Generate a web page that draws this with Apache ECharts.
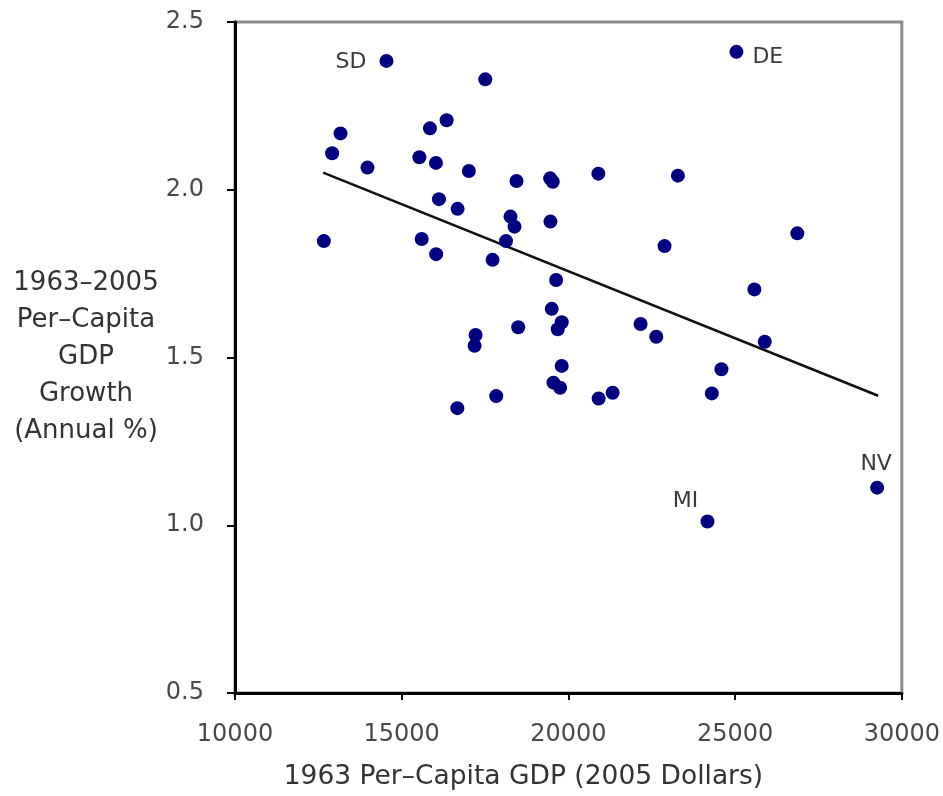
<!DOCTYPE html>
<html>
<head>
<meta charset="utf-8">
<script src="https://cdn.jsdelivr.net/npm/echarts@6/dist/echarts.min.js"></script>
<style>
  html, body { margin: 0; padding: 0; background: #fff; }
  #chart { width: 943px; height: 796px; }
</style>
</head>
<body>
<div id="chart"></div>
<script>
// 1963 per-capita GDP (2005 dollars) for each state
const gdp1963 = [
  14542, 25039, 17506, 13165, 12913, 13973, 15847, 16347, 15530, 16027,
  17015, 18443, 19452, 19530, 20898, 23284, 16117, 16677, 18263, 18383,
  19461, 12665, 15599, 16033, 18129, 17725, 19632, 22883, 26865, 25578,
  19500, 19799, 19680, 18494, 17216, 17186, 22165, 22635, 25889, 19799,
  24590, 19551, 19751, 17835, 16668, 20907, 21326, 24302, 24171, 29260
];
// 1963-2005 per-capita GDP growth (annual %)
const growthRate = [
  2.384, 2.411, 2.329, 2.168, 2.109, 2.066, 2.183, 2.207, 2.097, 2.080,
  2.056, 2.026, 2.034, 2.024, 2.048, 2.042, 1.972, 1.943, 1.920, 1.890,
  1.905, 1.847, 1.853, 1.808, 1.847, 1.791, 1.731, 1.832, 1.870, 1.703,
  1.645, 1.605, 1.584, 1.590, 1.567, 1.535, 1.600, 1.562, 1.547, 1.475,
  1.465, 1.425, 1.410, 1.385, 1.349, 1.378, 1.395, 1.393, 1.011, 1.112
];
// only a few states are named on the chart
const stateName = [
  'SD', 'DE', '', '', '', '', '', '', '', '',
  '', '', '', '', '', '', '', '', '', '',
  '', '', '', '', '', '', '', '', '', '',
  '', '', '', '', '', '', '', '', '', '',
  '', '', '', '', '', '', '', '', 'MI', 'NV'
];
// fitted trend line end points
const trendX = [12644, 29290];
const trendY = [2.051, 1.386];

const xTicks = [10000, 15000, 20000, 25000, 30000];
const yTicks = ['0.5', '1.0', '1.5', '2.0', '2.5'];

const FONT = 'DejaVu Sans';

// where each state name sits next to its dot
const labelPlace = {
  SD: { position: 'left', distance: 13, offset: [0, 1] },
  DE: { position: 'right', distance: 9, offset: [0, 5] },
  MI: { position: 'top', distance: 2, offset: [-22, 0] },
  NV: { position: 'top', distance: 5, offset: [-1, 0] }
};

let points = [];
gdp1963.forEach((v, i) => {
  let item = { value: [v, growthRate[i]], name: stateName[i] };
  if (stateName[i]) {
    item.label = Object.assign({ show: true, formatter: '{b}' }, labelPlace[stateName[i]]);
  }
  points.push(item);
});

let myChart = echarts.init(document.getElementById('chart'));
let option = {
  animation: false,
  textStyle: { fontFamily: FONT },
  grid: {
    left: 235,
    top: 22,
    right: 40,
    bottom: 103,
    show: true,
    borderColor: '#8a8a8a',
    borderWidth: 3,
    backgroundColor: '#fff'
  },
  xAxis: {
    type: 'value',
    min: xTicks[0],
    max: xTicks[xTicks.length - 1],
    interval: xTicks[1] - xTicks[0],
    name: '1963 Per\u2013Capita GDP (2005 Dollars)',
    nameLocation: 'middle',
    nameGap: 71,
    nameTextStyle: {
      color: '#333',
      fontSize: 26.5,
      fontFamily: FONT,
      padding: [0, 90, 0, 0]
    },
    axisLine: { lineStyle: { color: '#000', width: 3 } },
    axisTick: { show: true, length: 7, lineStyle: { color: '#000', width: 2 } },
    axisLabel: {
      color: '#4a4a4a',
      fontSize: 24,
      margin: 30,
      fontFamily: FONT,
      formatter: (v) => String(xTicks[xTicks.indexOf(v)])
    },
    splitLine: { show: false }
  },
  yAxis: {
    type: 'value',
    min: 0.5,
    max: 2.5,
    interval: 0.5,
    name: '1963\u20132005\nPer\u2013Capita\nGDP\nGrowth\n(Annual %)',
    nameLocation: 'middle',
    nameRotate: 0,
    nameGap: 149,
    nameTextStyle: {
      color: '#333',
      fontSize: 26,
      lineHeight: 37,
      align: 'center',
      verticalAlign: 'middle',
      fontFamily: FONT,
      backgroundColor: 'rgba(255,255,255,0)',
      padding: [14, 0, 0, 0]
    },
    axisLine: { lineStyle: { color: '#000', width: 3 } },
    axisTick: { show: true, length: 8, lineStyle: { color: '#000', width: 2 } },
    axisLabel: {
      color: '#4a4a4a',
      fontSize: 24,
      margin: 31,
      fontFamily: FONT,
      formatter: (v) => yTicks[Math.round((v - 0.5) / 0.5)]
    },
    splitLine: { show: false }
  },
  series: [
    {
      type: 'line',
      data: trendX.map((v, i) => [v, trendY[i]]),
      symbol: 'none',
      lineStyle: { color: '#111', width: 2.5 },
      z: 2
    },
    {
      type: 'scatter',
      data: points,
      symbol: 'circle',
      symbolSize: 14,
      itemStyle: { color: '#000080', opacity: 1 },
      label: { color: '#3a3a3a', fontSize: 22, fontFamily: FONT },
      z: 3
    }
  ]
};
myChart.setOption(option);
</script>
</body>
</html>
